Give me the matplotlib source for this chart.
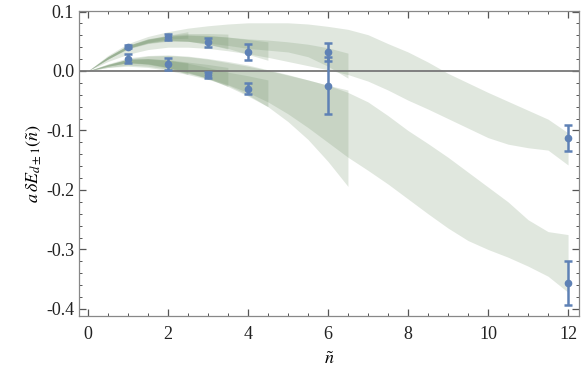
import numpy as np
import matplotlib
matplotlib.use("Agg")
import matplotlib.pyplot as plt
from matplotlib.ticker import MultipleLocator

# data points (two series)
n_pts = [1, 2, 3, 4, 6, 12]
up_y = [0.041, 0.057, 0.048, 0.032, 0.032, -0.112]
up_err = [0.003, 0.005, 0.008, 0.014, 0.015, 0.022]
lo_y = [0.021, 0.012, -0.006, -0.030, -0.025, -0.357]
lo_err = [0.008, 0.010, 0.005, 0.009, 0.048, 0.037]

# fit bands, edges read at n = 0, 0.5, 1, ... up to the band end
E_top = [0, 0.026, 0.046, 0.058, 0.066, 0.072, 0.076, 0.079, 0.081, 0.081, 0.081, 0.079, 0.075,
         0.070, 0.061, 0.046, 0.032, 0.015, -0.004, -0.020, -0.036, -0.051, -0.066, -0.081, -0.104]
E_bot = [0, 0.016, 0.028, 0.036, 0.040, 0.040, 0.038, 0.034, 0.029, 0.023, 0.016, 0.009, 0.002,
         -0.006, -0.017, -0.032, -0.049, -0.064, -0.080, -0.096, -0.112, -0.123, -0.129, -0.133, -0.158]
F_top = [0, 0.012, 0.022, 0.026, 0.027, 0.025, 0.021, 0.016, 0.010, 0.002, -0.006, -0.015, -0.024,
         -0.036, -0.052, -0.075, -0.100, -0.122, -0.145, -0.170, -0.195, -0.220, -0.250, -0.270, -0.275]
F_bot = [0, 0.006, 0.010, 0.008, 0.003, -0.004, -0.012, -0.023, -0.036, -0.052, -0.072, -0.095, -0.120,
         -0.145, -0.167, -0.190, -0.215, -0.240, -0.264, -0.285, -0.300, -0.313, -0.328, -0.345, -0.372]

A_top = [0, 0.024, 0.043, 0.053, 0.060, 0.066]
A_bot = [0, 0.020, 0.038, 0.048, 0.054, 0.055]
B_top = [0, 0.024, 0.043, 0.054, 0.060, 0.063, 0.063, 0.062]
B_bot = [0, 0.020, 0.038, 0.047, 0.052, 0.050, 0.045, 0.037]
C_top = [0, 0.024, 0.043, 0.054, 0.059, 0.061, 0.060, 0.057, 0.053, 0.049]
C_bot = [0, 0.020, 0.038, 0.047, 0.051, 0.050, 0.045, 0.038, 0.028, 0.018]
D_top = [0, 0.024, 0.042, 0.053, 0.058, 0.060, 0.059, 0.057, 0.054, 0.052, 0.049, 0.045, 0.039, 0.030]
D_bot = [0, 0.020, 0.037, 0.046, 0.050, 0.050, 0.047, 0.043, 0.038, 0.035, 0.032, 0.024, 0.008, -0.012]

G_top = [0, 0.011, 0.019, 0.020, 0.018, 0.014]
G_bot = [0, 0.008, 0.014, 0.012, 0.006, -0.006]
H_top = [0, 0.011, 0.020, 0.021, 0.019, 0.015, 0.011, 0.006]
H_bot = [0, 0.008, 0.014, 0.012, 0.006, -0.002, -0.012, -0.026]
I_top = [0, 0.011, 0.020, 0.021, 0.018, 0.013, 0.006, -0.002, -0.008, -0.015]
I_bot = [0, 0.008, 0.014, 0.011, 0.005, -0.003, -0.013, -0.026, -0.042, -0.060]
J_top = [0, 0.010, 0.020, 0.025, 0.026, 0.024, 0.020, 0.014, 0.008, 0.001, -0.007, -0.015, -0.024, -0.032]
J_bot = [0, 0.006, 0.008, 0.006, 0.001, -0.006, -0.014, -0.024, -0.040, -0.060, -0.085, -0.115, -0.152, -0.194]

bands = [(A_top, A_bot), (B_top, B_bot), (C_top, C_bot), (D_top, D_bot), (E_top, E_bot),
         (G_top, G_bot), (H_top, H_bot), (I_top, I_bot), (J_top, J_bot), (F_top, F_bot)]

plt.rcParams['mathtext.fontset'] = 'stix'
plt.rcParams['font.family'] = 'Liberation Serif'

fig = plt.figure(figsize=(5.81, 3.79), dpi=100)
ax = fig.add_axes([0.136, 0.166, 0.861, 0.806])

for top, bot in bands:
    nn = np.arange(len(top)) * 0.5
    ax.fill_between(nn, bot, top, color=(0.45, 0.58, 0.42), alpha=0.22, lw=0, zorder=1)

ax.axhline(0, color='#777777', lw=1.3, zorder=2)

blue = '#5e81b5'
for y, e in [(up_y, up_err), (lo_y, lo_err)]:
    ax.errorbar(n_pts, y, yerr=e, fmt='o', color=blue, ms=4.5, elinewidth=1.8,
                capsize=3, capthick=1.8, zorder=3)

ax.set_xlim(-0.22, 12.28)
ax.set_ylim(-0.412, 0.1015)
ax.xaxis.set_major_locator(MultipleLocator(2))
ax.xaxis.set_minor_locator(MultipleLocator(0.5))
ax.yaxis.set_major_locator(MultipleLocator(0.1))
ax.yaxis.set_minor_locator(MultipleLocator(0.02))
ax.yaxis.set_major_formatter(matplotlib.ticker.FormatStrFormatter('%.1f'))
ax.tick_params(which='both', direction='in', top=True, right=True, color='#555555',
               labelsize=13, labelcolor='#222222')
ax.tick_params(axis='x', pad=7)
ax.tick_params(which='major', length=5, width=0.9)
ax.tick_params(which='minor', length=2.5, width=0.7)
for s in ax.spines.values():
    s.set_color('#888888')
    s.set_linewidth(0.9)

ax.set_xlabel(r'$\tilde{n}$', fontsize=13, labelpad=6)
ax.set_ylabel(r'$a\,\delta E_{d\pm1}(\tilde{n})$', fontsize=13, labelpad=2)

fig.savefig('out.png', dpi=100)
